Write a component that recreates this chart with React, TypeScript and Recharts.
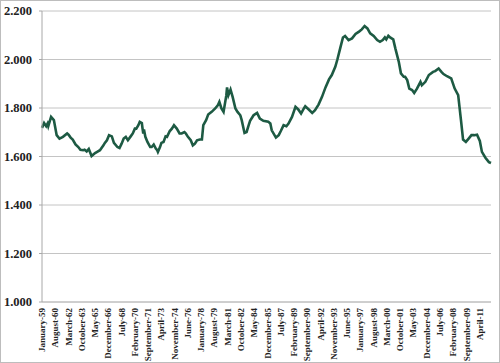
import React from "react";
import { LineChart, Line, XAxis, YAxis, CartesianGrid } from "recharts";

// months since January 1959
const MONTHS = [
  0, 3, 6, 8, 9, 13, 17, 21, 25, 30, 36, 38, 41, 44, 48, 52, 55, 59, 61, 64,
  67, 71, 76, 79, 83, 88, 90, 93, 96, 100, 103, 108, 111, 114, 117, 120, 123, 127, 130, 133,
  135, 138, 140, 143, 144, 145, 146, 148, 151, 155, 157, 160, 163, 165, 166, 169, 171, 174, 177, 179,
  183, 186, 189, 193, 197, 200, 204, 206, 209, 213, 216, 219, 222, 226, 229, 231, 235, 238, 243, 248,
  252, 254, 257, 260, 264, 265, 267, 270, 273, 277, 280, 284, 286, 290, 293, 296, 298,
  303, 308, 312, 317, 324, 327, 329, 335, 339, 342, 346, 350, 353, 358, 363, 367, 371, 375, 377, 382,
  387, 391, 396, 401, 406, 411, 415, 420, 423, 427, 431, 434, 439, 444, 449, 454, 458, 462, 466, 470,
  475, 480, 484, 488, 491, 493, 496, 499, 503, 506, 511, 514, 518, 520, 523, 526, 530, 533, 537, 542,
  544, 549, 554, 560, 563, 568, 572, 575, 580, 586, 591, 596, 600, 603, 607, 611, 615, 619, 623, 627,
  630, 635, 640, 643,
];

const VALUES = [
  1718, 1738, 1725, 1736, 1725, 1763, 1750, 1688, 1674, 1681, 1695, 1690, 1678, 1670, 1650, 1639, 1628, 1626, 1628, 1621,
  1631, 1602, 1614, 1619, 1626, 1646, 1656, 1667, 1688, 1683, 1656, 1639, 1635, 1653, 1674, 1681, 1667, 1683, 1695, 1715,
  1715, 1729, 1743, 1738, 1715, 1695, 1711, 1681, 1660, 1639, 1639, 1649, 1633, 1626, 1619, 1639, 1656, 1660, 1683, 1681,
  1705, 1715, 1729, 1715, 1695, 1695, 1701, 1695, 1681, 1667, 1646, 1653, 1667, 1670, 1670, 1729, 1750, 1773, 1784, 1798,
  1812, 1825, 1798, 1784, 1853, 1885, 1853, 1876, 1846, 1798, 1784, 1770, 1750, 1697, 1701, 1729, 1747,
  1770, 1780, 1756, 1747, 1743, 1736, 1708, 1678, 1688, 1705, 1729, 1725, 1736, 1763, 1805, 1794, 1777, 1798, 1807, 1794,
  1780, 1791, 1814, 1846, 1885, 1918, 1936, 1970, 2000, 2046, 2091, 2097, 2080, 2087, 2105, 2115, 2124, 2138, 2128, 2108,
  2097, 2080, 2073, 2080, 2091, 2083, 2098, 2090, 2083, 2046, 1990, 1943, 1929, 1929, 1915, 1880, 1874, 1862, 1880, 1908,
  1894, 1908, 1936, 1949, 1952, 1963, 1949, 1940, 1931, 1922, 1880, 1853, 1750, 1670, 1660, 1674, 1688, 1688, 1690, 1664,
  1619, 1595, 1577, 1573,
];

const TICK_LABELS = [
  "January-59", "August-60", "March-62", "October-63", "May-65", "December-66", "July-68",
  "February-70", "September-71", "April-73", "November-74", "June-76", "January-78", "August-79",
  "March-81", "October-82", "May-84", "December-85", "July-87", "February-89", "September-90",
  "April-92", "November-93", "June-95", "January-97", "August-98", "March-00", "October-01",
  "May-03", "December-04", "July-06", "February-08", "September-09", "April-11",
];
const TICK_STEP = 19;
const X_TICKS = TICK_LABELS.map((_, i) => i * TICK_STEP);
const LAST_MONTH = 643;

const Y_TICKS = [1000, 1200, 1400, 1600, 1800, 2000, 2200];

const data = MONTHS.map((m, i) => ({ m, v: VALUES[i] }));

const fmtY = (v: number) => {
  const th = Math.floor(v / 1000);
  const rest = String(v % 1000).padStart(3, "0");
  return `${th}.${rest}`;
};

const XTick = (props: any) => {
  const { x, y, payload } = props;
  const idx = Math.round(payload.value / TICK_STEP);
  return (
    <g transform={`translate(${x},${y})`}>
      <text
        x={0}
        y={0}
        dy={3}
        textAnchor="end"
        transform="rotate(-90)"
        fontFamily="'Liberation Serif', serif"
        fontSize={9}
        fontWeight="bold"
        fill="#222"
      >
        {TICK_LABELS[idx]}
      </text>
    </g>
  );
};

export default function App() {
  return (
    <div
      style={{
        position: "absolute",
        left: 0,
        top: 0,
        width: 500,
        height: 363,
        boxSizing: "border-box",
        border: "1px solid #bdbdbd",
        background: "#fff",
      }}
    >
      <div style={{ position: "absolute", left: -1, top: -1 }}>
        <LineChart
          width={500}
          height={363}
          data={data}
          margin={{ top: 11, right: 9, left: 0, bottom: 0 }}
        >
          <CartesianGrid vertical={false} stroke="#c4c4c4" strokeWidth={1} />
          <XAxis
            type="number"
            dataKey="m"
            domain={[0, LAST_MONTH]}
            ticks={X_TICKS}
            interval={0}
            height={61}
            tick={<XTick />}
            tickLine={false}
            tickSize={4}
            axisLine={{ stroke: "#bcbcbc" }}
          />
          <YAxis
            type="number"
            domain={[1000, 2200]}
            ticks={Y_TICKS}
            interval={0}
            width={42}
            tickFormatter={fmtY}
            tickSize={3}
            tickMargin={7}
            tickLine={{ stroke: "#a8a8a8" }}
            axisLine={{ stroke: "#a8a8a8" }}
            tick={{
              fontFamily: "'Liberation Serif', serif",
              fontSize: 12.5,
              fontWeight: "bold",
              fill: "#222",
            }}
          />
          <Line
            type="linear"
            dataKey="v"
            stroke="#1d5a43"
            strokeWidth={2.6}
            dot={false}
            isAnimationActive={false}
          />
        </LineChart>
      </div>
    </div>
  );
}
